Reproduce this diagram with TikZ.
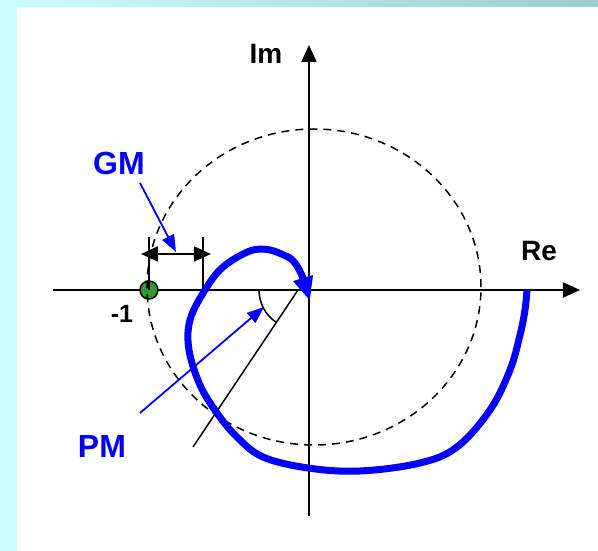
\documentclass[tikz,border=0pt]{standalone}
\usepackage{fontspec}
\setmainfont{Liberation Sans}
\usetikzlibrary{arrows.meta,positioning}
\definecolor{nblue}{RGB}{0,0,255}
\definecolor{dotgreen}{RGB}{51,153,51}
\definecolor{slidecyan}{RGB}{204,255,255}
\definecolor{slideteal}{RGB}{160,204,204}
\begin{document}
\begin{tikzpicture}[x=1pt,y=1pt,
  axis/.style={line width=2pt,-{Triangle[length=17pt,width=15pt]}},
  lbl/.style={font=\bfseries\fontsize{28}{30}\selectfont},
  mlbl/.style={font=\bfseries\fontsize{32}{34}\selectfont,text=nblue},
  nyq/.style={line width=7pt,nblue,-{Triangle[length=24pt,width=19pt]}},
  ptr/.style={line width=1.8pt,nblue,-{Triangle[length=17pt,width=13pt]}}]
% Slide background
\useasboundingbox (-309,-261) rectangle (289,290);
\fill[white] (-309,-261) rectangle (289,290);
\shade[left color=slidecyan,right color=slideteal] (-309,283) rectangle (289,290);
\fill[slidecyan] (-309,-261) rectangle (-292,290);

% Axes
\coordinate (reL) at (-256,0);
\coordinate (reR) at (271,0);
\coordinate (imB) at (0,-226);
\coordinate (imT) at (0,245);
\draw[axis] (reL) -- (reR);
\draw[axis] (imB) -- (imT);
\node[lbl] (im) at (-43,236) {Im};
\node[lbl] (re) at (230,39) {Re};

% Critical point -1
\node[circle,draw,fill=dotgreen,minimum size=18pt,inner sep=0pt,line width=1.5pt] (crit) at (-160,0) {};
\node[font=\bfseries\fontsize{25}{27}\selectfont] (critlbl) at (-187,-24) {-1};

% Unit circle
\draw[line width=1.5pt,dash pattern=on 8pt off 6pt] (5,3) ellipse (167pt and 158pt);

% Gain margin
\coordinate (gmLt) at (-160,53);
\coordinate (gmLb) at (-160,0);
\coordinate (gmRt) at (-106,53);
\coordinate (gmRb) at (-106,0);
\draw[line width=1.5pt] (gmLt) -- (gmLb);
\draw[line width=1.5pt] (gmRt) -- (gmRb);
\coordinate (gmdl) at (-168,36);
\coordinate (gmdr) at (-98,36);
\draw[line width=1.8pt,{Triangle[length=17pt,width=15pt]}-{Triangle[length=17pt,width=15pt]}] (gmdl) -- (gmdr);

% Phase margin
\coordinate (pmA) at (-11,0);
\coordinate (pmB) at (-116,-157);
\draw[line width=1.5pt] (pmA) -- (pmB);
\draw[line width=1.5pt] (pmA) ++(180:39pt) arc[start angle=180,end angle=236,radius=39pt];

% Nyquist curve
\coordinate (nyqend) at (1,-11);
\draw[nyq] plot[smooth,tension=0.6] coordinates {(218,0) (216,-20) (211,-45) (201,-80) (181,-120) (148,-157) (111,-173) (51,-181) (-1,-178) (-46,-167) (-72,-147) (-92,-123) (-109,-95) (-120,-60) (-119,-30) (-104,0) (-86,23) (-59,39) (-39,40) (-19,32)}
  .. controls (-11,26) and (-6,12) .. (nyqend);

% Labels
\node[mlbl] (gm) at (-190,127) {GM};
\node[mlbl] (pm) at (-207,-156) {PM};
\coordinate (gmfrom) at (-169,107);
\coordinate (gmtip) at (-133,38);
\coordinate (pmfrom) at (-169,-123);
\coordinate (pmtip) at (-45,-17);
\draw[ptr] (gmfrom) -- (gmtip);
\draw[ptr] (pmfrom) -- (pmtip);
\end{tikzpicture}
\end{document}
